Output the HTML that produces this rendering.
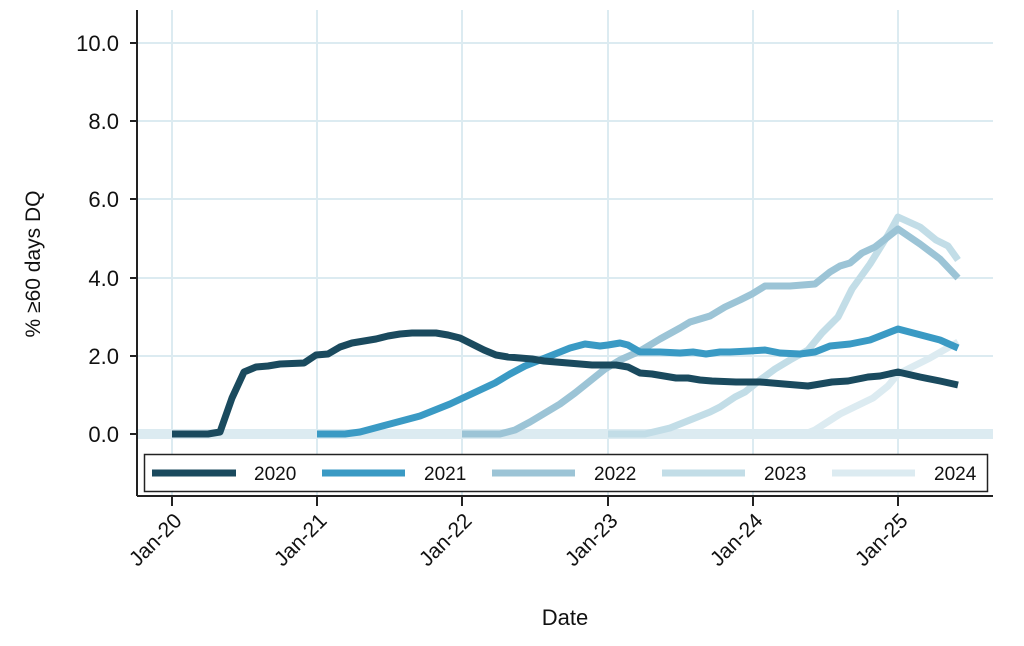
<!DOCTYPE html>
<html><head><meta charset="utf-8"><style>
body{margin:0;background:#fff}
svg text{font-family:"Liberation Sans",sans-serif;fill:#111}
</style></head><body>
<svg width="1024" height="641" viewBox="0 0 1024 641" xmlns="http://www.w3.org/2000/svg">
<g stroke="#dcebf1" stroke-width="2">
<line x1="137" y1="43" x2="993" y2="43"/><line x1="137" y1="121" x2="993" y2="121"/><line x1="137" y1="199" x2="993" y2="199"/><line x1="137" y1="278" x2="993" y2="278"/><line x1="137" y1="356" x2="993" y2="356"/>
<line x1="172" y1="10" x2="172" y2="495"/><line x1="317" y1="10" x2="317" y2="495"/><line x1="462" y1="10" x2="462" y2="495"/><line x1="608" y1="10" x2="608" y2="495"/><line x1="753" y1="10" x2="753" y2="495"/><line x1="898" y1="10" x2="898" y2="495"/>
</g>
<line x1="137" y1="434" x2="993" y2="434" stroke="#dcebf1" stroke-width="10"/>
<g fill="none" stroke-width="7" stroke-linejoin="round">
<polyline stroke="#dcebf1" points="753,434 805,434 815,430 840,414 873,398 888,386 898,374 930,358 958,342"/>
<polyline stroke="#c2dde7" points="608,434 645,434 670,428 690,420 710,412 720,407 735,397 745,392 760,380 775,369 790,360 808,350 822,333 838,317 852,289 870,264 888,235 898,217 920,227 936,240 948,246 958,260"/>
<polyline stroke="#9cc4d6" points="462,434 500,434 515,430 530,422 545,413 560,404 575,393 590,381 605,369 620,360 640,351 660,339 680,328 690,322 710,316 725,307 740,300 752,294 765,286 790,286 815,284 830,272 840,266 850,263 862,253 875,247 898,229 920,244 940,259 958,278"/>
<polyline stroke="#3a9ac4" points="317,434 345,434 360,432 375,428 390,424 405,420 420,416 435,410 450,404 465,397 480,390 495,383 510,374 525,366 540,360 555,354 570,348 585,344 600,346 608,345 620,343 628,345 640,352 660,352 680,353 693,352 706,354 720,352 730,352 750,351 765,350 780,353 800,354 815,352 830,346 850,344 870,340 898,329 940,340 958,348"/>
<polyline stroke="#1a4a5e" points="172,434 208,434 220,432 232,398 244,372 256,367 268,366 280,364 304,363 316,355 328,354 340,347 352,343 364,341 376,339 388,336 400,334 412,333 436,333 448,335 460,338 472,344 484,350 496,355 508,357 520,358 532,359 544,361 556,362 568,363 580,364 592,365 616,365 628,367 640,373 652,374 664,376 676,378 688,378 700,380 712,381 736,382 760,382 784,384 808,386 832,382 848,381 868,377 880,376 898,372 920,377 940,381 958,385"/>
</g>
<g stroke="#222" stroke-width="2">
<line x1="137" y1="10" x2="137" y2="496"/><line x1="137" y1="496" x2="993" y2="496"/>
<line x1="130" y1="43" x2="137" y2="43"/><line x1="130" y1="121" x2="137" y2="121"/><line x1="130" y1="199" x2="137" y2="199"/><line x1="130" y1="278" x2="137" y2="278"/><line x1="130" y1="356" x2="137" y2="356"/><line x1="130" y1="434" x2="137" y2="434"/>
<line x1="172" y1="496" x2="172" y2="506"/><line x1="317" y1="496" x2="317" y2="506"/><line x1="462" y1="496" x2="462" y2="506"/><line x1="608" y1="496" x2="608" y2="506"/><line x1="753" y1="496" x2="753" y2="506"/><line x1="898" y1="496" x2="898" y2="506"/>
</g>
<g font-size="22" text-anchor="end">
<text x="119" y="51">10.0</text><text x="119" y="129">8.0</text><text x="119" y="207">6.0</text><text x="119" y="286">4.0</text><text x="119" y="364">2.0</text><text x="119" y="442">0.0</text>
</g>
<g font-size="21" text-anchor="end">
<text transform="translate(183,522) rotate(-45)">Jan-20</text>
<text transform="translate(328,522) rotate(-45)">Jan-21</text>
<text transform="translate(473,522) rotate(-45)">Jan-22</text>
<text transform="translate(619,522) rotate(-45)">Jan-23</text>
<text transform="translate(764,522) rotate(-45)">Jan-24</text>
<text transform="translate(909,522) rotate(-45)">Jan-25</text>
</g>
<text x="565" y="625" font-size="22" text-anchor="middle">Date</text>
<text transform="translate(40,264) rotate(-90)" font-size="21" text-anchor="middle">% ≥60 days DQ</text>
<rect x="144.5" y="454.5" width="843" height="37" fill="#fff" stroke="#222" stroke-width="1.5"/>
<g stroke-width="7">
<line x1="152" y1="473" x2="236" y2="473" stroke="#1a4a5e"/>
<line x1="322" y1="473" x2="405" y2="473" stroke="#3a9ac4"/>
<line x1="492" y1="473" x2="575" y2="473" stroke="#9cc4d6"/>
<line x1="662" y1="473" x2="745" y2="473" stroke="#c2dde7"/>
<line x1="832" y1="473" x2="915" y2="473" stroke="#dcebf1"/>
</g>
<g font-size="19">
<text x="254" y="480">2020</text><text x="424" y="480">2021</text><text x="594" y="480">2022</text><text x="764" y="480">2023</text><text x="934" y="480">2024</text>
</g>
</svg>
</body></html>
